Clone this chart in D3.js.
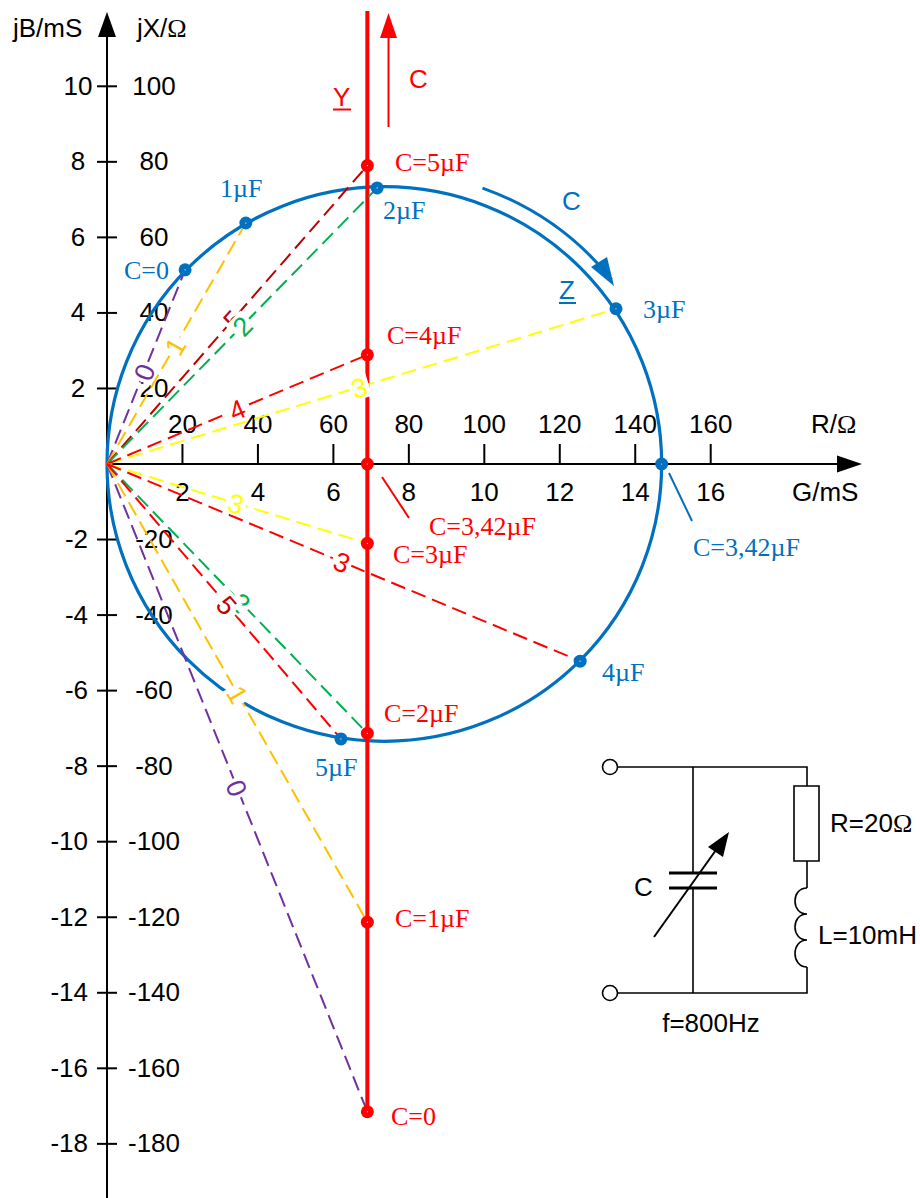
<!DOCTYPE html>
<html>
<head>
<meta charset="utf-8">
<script src="https://cdn.jsdelivr.net/npm/d3@7"></script>
<style>
body { margin: 0; background: #fff; }
text { font-family: "Liberation Sans", Arial, sans-serif; }
.serif { font-family: "Liberation Serif", "Times New Roman", serif; }
</style>
</head>
<body>
<div id="chart"></div>
<script>
// capacitor settings, one entry per point on the two loci
const capValues = [0, 1, 2, 3, 3.42, 4, 5];
// admittance locus (mS), straight line at constant G
const conductanceG = 6.9;
const susceptanceB = [-17.15, -12.13, -7.13, -2.1, 0, 2.89, 7.9];
// impedance locus (ohm), circle through the origin
const resistanceR = [20.7, 36.8, 71.6, 134.9, 147, 125.4, 62];
const reactanceX = [51.4, 63.8, 73.1, 41.1, 0, -52.2, -72.8];
const circleDiameterR = 147;

// tick labels
const gTicks = [2, 4, 6, 8, 10, 12, 14, 16];
const rTicks = [20, 40, 60, 80, 100, 120, 140, 160];
const bTicks = [10, 8, 6, 4, 2, -2, -4, -6, -8, -10, -12, -14, -16, -18];
const xTicks = [100, 80, 60, 40, 20, -20, -40, -60, -80, -100, -120, -140, -160, -180];

// dashed rays from the origin: which capacitor and which locus they end on
// (5 comes before 2 up top so the 2 sits over it, the lower pair the other way)
const rayCaps = [0, 1, 5, 2, 3, 4, 0, 1, 2, 3, 4, 5];
const rayLocus = ["Z", "Z", "Y", "Z", "Z", "Y", "Y", "Y", "Y", "Y", "Z", "Z"];
const rayText = ["0", "1", "5", "2", "3", "4", "0", "1", "2", "3", "3", "5"];
// G value along each ray where its number sits
const rayTextG = [0.98, 1.8, 3.34, 3.58, 6.68, 3.45, 3.45, 3.47, 3.55, 3.42, 6.23, 3.18];

const BLUE = "#0070C0", RED = "#FF0000";
const rayColor = ["#7030A0", "#FFC000", "#C00000", "#00B050", "#FFFF00", "#FF0000",
	"#7030A0", "#FFC000", "#00B050", "#FFFF00", "#FF0000", "#FF0000"];
const rayTextColor = rayColor.slice();
rayTextColor[11] = "#C00000";

const width = 920, height = 1198;
const originX = 107, originY = 464;

const svg = d3.select("#chart").append("svg")
	.attr("width", width)
	.attr("height", height)
	.style("display", "block");

const gScale = d3.scaleLinear().domain([0, 16]).range([originX, 710.7]);
const bScale = d3.scaleLinear().domain([0, 10]).range([originY, 86.3]);
const rScale = d3.scaleLinear().domain([0, 160]).range([originX, 710.7]);
const xScale = d3.scaleLinear().domain([0, 100]).range([originY, 86.3]);

function put(x, y, str, color, size, anchor, serif) {
	return svg.append("text")
		.attr("x", x).attr("y", y)
		.attr("text-anchor", anchor || "start")
		.attr("class", serif ? "serif" : null)
		.style("font-size", size + "px")
		.style("fill", color)
		.text(str);
}

// axes
svg.append("g")
	.attr("transform", "translate(97,0)")
	.call(d3.axisLeft(bScale).tickValues(bTicks).tickSize(-20).offset(0).tickFormat(""))
	.call(g => g.select(".domain").remove())
	.selectAll("line").attr("stroke", "#000").attr("stroke-width", 2);
svg.append("g")
	.attr("transform", `translate(0,${originY})`)
	.call(d3.axisTop(gScale).tickValues(gTicks).tickSize(20).offset(0).tickFormat(""))
	.call(g => g.select(".domain").remove())
	.selectAll("line").attr("stroke", "#000").attr("stroke-width", 2);

svg.append("line").attr("x1", originX).attr("x2", originX).attr("y1", 30).attr("y2", height)
	.attr("stroke", "#000").attr("stroke-width", 2);
svg.append("line").attr("x1", originX).attr("x2", 840).attr("y1", originY).attr("y2", originY)
	.attr("stroke", "#000").attr("stroke-width", 2);
svg.append("path").attr("d", "M107,12L116,37L98,37Z").attr("fill", "#000");
svg.append("path").attr("d", "M862,464L837,455.5L837,472.5Z").attr("fill", "#000");

// tick labels
const TICK = 26;
bTicks.forEach(v => {
	let t = v < 0 ? "-" + Math.abs(v) : String(v);
	if (v > 0 && v < 10) put(78, bScale(v) + 8.5, t, "#000", TICK, "middle");
	else if (v < 0) put(88, bScale(v) + 8.5, t, "#000", TICK, "end");
	else put(92.5, bScale(v) + 8.5, t, "#000", TICK, "end");
});
xTicks.forEach(v => {
	put(154, xScale(v) + 8.5, v < 0 ? "-" + Math.abs(v) : String(v), "#000", TICK, "middle");
});
rTicks.forEach(v => put(rScale(v), 433, String(v), "#000", TICK, "middle"));
gTicks.forEach(v => put(gScale(v), 501, String(v), "#000", TICK, "middle"));

const rLabel = put(811, 433, "R/", "#000", TICK);
rLabel.append("tspan").attr("class", "serif").text("Ω");
put(792, 501, "G/mS", "#000", TICK);
put(13, 37, "jB/mS", "#000", TICK);
const jxLabel = put(137, 37, "jX/", "#000", TICK);
jxLabel.append("tspan").attr("class", "serif").text("Ω");

// impedance circle
svg.append("circle")
	.attr("cx", rScale(circleDiameterR / 2))
	.attr("cy", xScale(0))
	.attr("r", rScale(circleDiameterR / 2) - rScale(0))
	.attr("fill", "none")
	.attr("stroke", BLUE)
	.attr("stroke-width", 3.2);

// admittance line and direction arrows
svg.append("line").attr("x1", gScale(conductanceG)).attr("x2", gScale(conductanceG))
	.attr("y1", 11).attr("y2", bScale(d3.min(susceptanceB)))
	.attr("stroke", RED).attr("stroke-width", 4);
svg.append("line").attr("x1", 388.5).attr("x2", 388.5).attr("y1", 127).attr("y2", 36)
	.attr("stroke", RED).attr("stroke-width", 2);
svg.append("path").attr("d", "M388.5,13L397,38L380,38Z").attr("fill", RED);
put(409, 88, "C", RED, TICK);
put(333, 106, "Y", RED, 26);
svg.append("line").attr("x1", 333).attr("x2", 351).attr("y1", 109.5).attr("y2", 109.5)
	.attr("stroke", RED).attr("stroke-width", 2);

const arrowArc = d3.arc()({ innerRadius: 293, outerRadius: 293, startAngle: 0.343, endAngle: 0.89 });
svg.append("path").attr("transform", "translate(384,464)").attr("d", arrowArc)
	.attr("fill", "none").attr("stroke", BLUE).attr("stroke-width", 3);
svg.append("path").attr("d", "M614,286L607,257L591,267Z").attr("fill", BLUE);
put(562, 210, "C", BLUE, TICK);
put(559, 299, "Z", BLUE, 26);
svg.append("line").attr("x1", 559).attr("x2", 576).attr("y1", 303).attr("y2", 303)
	.attr("stroke", BLUE).attr("stroke-width", 2);

// dashed rays
const rays = rayCaps.map((c, i) => {
	let k = capValues.indexOf(c);
	let end = rayLocus[i] == "Z"
		? [rScale(resistanceR[k]), xScale(reactanceX[k])]
		: [gScale(conductanceG), bScale(susceptanceB[k])];
	return { end, color: rayColor[i], text: rayText[i], textColor: rayTextColor[i], g: rayTextG[i] };
});
svg.selectAll(".ray").data(rays).enter().append("line")
	.attr("class", "ray")
	.attr("x1", originX).attr("y1", originY)
	.attr("x2", d => d.end[0]).attr("y2", d => d.end[1])
	.attr("stroke", d => d.color)
	.attr("stroke-width", 2)
	.attr("stroke-dasharray", "15 7");

// numbers on the rays, each with a white patch that interrupts whatever is behind
const rayLabels = svg.selectAll(".rayLabel").data(rays).enter().append("g")
	.attr("class", "rayLabel")
	.attr("transform", d => {
		let px = gScale(d.g);
		let py = originY + (d.end[1] - originY) * (px - originX) / (d.end[0] - originX);
		let angle = Math.atan2(d.end[1] - originY, d.end[0] - originX) * 180 / Math.PI;
		return `translate(${px},${py}) rotate(${angle})`;
	});
rayLabels.append("rect").attr("x", -10).attr("y", -12).attr("width", 20).attr("height", 24).attr("fill", "#fff");
rayLabels.append("text")
	.attr("text-anchor", "middle")
	.attr("y", 10)
	.style("font-size", "27px")
	.style("fill", d => d.textColor)
	.text(d => d.text);

// point markers
const yPoints = susceptanceB.map(b => [gScale(conductanceG), bScale(b)]);
const zPoints = resistanceR.map((r, i) => [rScale(r), xScale(reactanceX[i])]);
[[yPoints, RED], [zPoints, BLUE]].forEach(([pts, color]) => {
	svg.append("g").selectAll("circle").data(pts).enter().append("circle")
		.attr("cx", d => d[0]).attr("cy", d => d[1]).attr("r", 6.5).attr("fill", color);
	svg.append("g").selectAll("circle").data(pts).enter().append("circle")
		.attr("cx", d => d[0]).attr("cy", d => d[1]).attr("r", 0.6).attr("fill", "#fff");
});

// leader lines and point labels
svg.append("line").attr("x1", 382).attr("y1", 477).attr("x2", 409).attr("y2", 518)
	.attr("stroke", RED).attr("stroke-width", 2);
svg.append("line").attr("x1", 669).attr("y1", 473).attr("x2", 692).attr("y2", 521)
	.attr("stroke", BLUE).attr("stroke-width", 2);

const SERIF = 26;
const yNames = ["C=0", "C=1µF", "C=2µF", "C=3µF", "C=3,42µF", "C=4µF", "C=5µF"];
const zNames = ["C=0", "1µF", "2µF", "3µF", "C=3,42µF", "4µF", "5µF"];
const yNameX = [391, 395, 384, 393, 429, 387, 395];
const yNameY = [1125, 927, 722, 563, 535, 344, 171];
const zNameX = [124, 220, 383, 643, 693, 602, 315];
const zNameY = [279, 197, 219, 318, 556, 681, 776];
yNames.forEach((t, i) => put(yNameX[i], yNameY[i], t, RED, SERIF, "start", true));
zNames.forEach((t, i) => put(zNameX[i], zNameY[i], t, BLUE, SERIF, "start", true));

// circuit diagram
const wire = (d, w) => svg.append("path").attr("d", d).attr("fill", "none")
	.attr("stroke", "#000").attr("stroke-width", w || 1.6);
wire("M617,767H807V786M617,993H807V967M693,767V873M693,888V993");
wire("M669,873H717M669,888H717", 3);
wire("M794,786H819V861H794ZM807,861V888");
wire("M807,888C791,888 791,914 807,914C791,914 791,940 807,940C791,940 791,967 807,967");
wire("M654,937L716,850", 2);
svg.append("path").attr("d", "M729,832L708,847L723,857Z").attr("fill", "#000");
svg.append("circle").attr("cx", 610).attr("cy", 767).attr("r", 7.5).attr("fill", "#fff").attr("stroke", "#000").attr("stroke-width", 1.6);
svg.append("circle").attr("cx", 610).attr("cy", 993).attr("r", 7.5).attr("fill", "#fff").attr("stroke", "#000").attr("stroke-width", 1.6);
put(634, 896, "C", "#000", TICK);
const rText = put(830, 832, "R=20", "#000", TICK);
rText.append("tspan").attr("class", "serif").text("Ω");
put(818, 944, "L=10mH", "#000", TICK);
put(711, 1032, "f=800Hz", "#000", TICK, "middle");
</script>
</body>
</html>
